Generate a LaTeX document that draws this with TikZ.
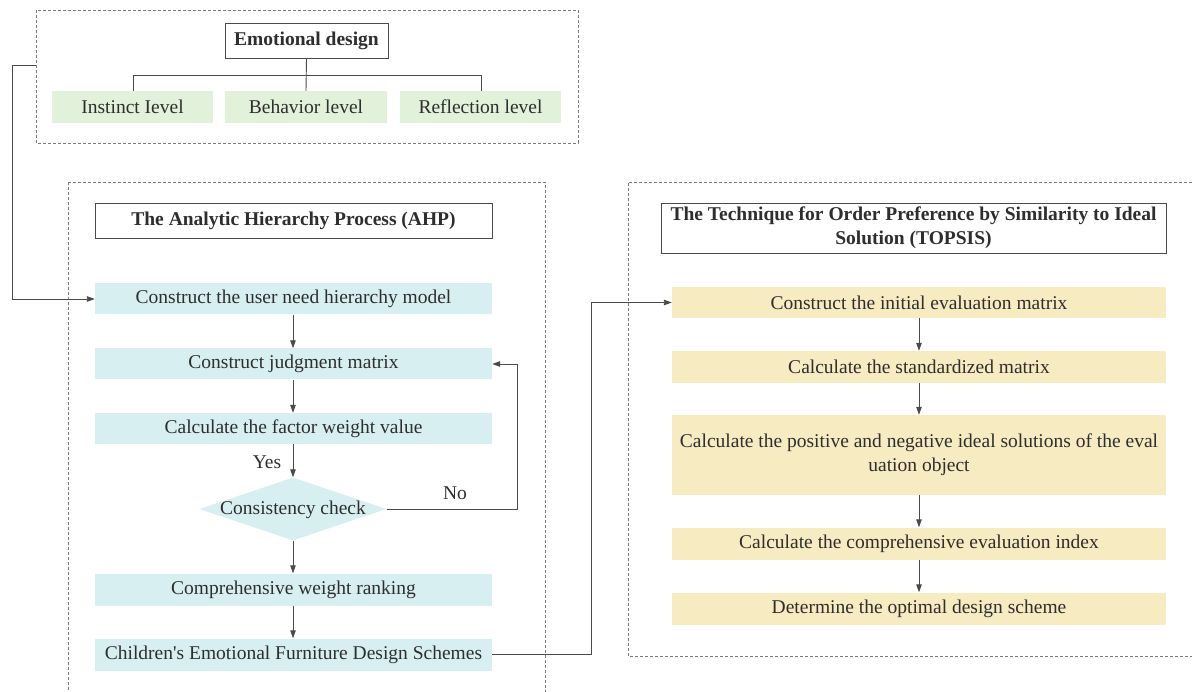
\documentclass[tikz,border=0pt]{standalone}
\usepackage{fontspec}
\setmainfont{Liberation Serif}
\usetikzlibrary{arrows.meta,shapes.geometric}
\definecolor{txt}{HTML}{2E2E2E}
\definecolor{ln}{HTML}{4A4A4A}
\definecolor{dsh}{HTML}{7A7A7A}
\definecolor{cyanfill}{HTML}{D7EFF0}
\definecolor{yelfill}{HTML}{F6EBC1}
\definecolor{grnfill}{HTML}{E2F1DA}
\tikzset{
  x=1pt, y=-1pt,
  every node/.style={text=txt, font=\fontsize{19.5}{22}\selectfont, inner sep=0pt, align=center},
  group/.style={draw=dsh, dashed, line width=0.8pt, dash pattern=on 3pt off 2pt},
  titlebox/.style={draw=ln, line width=0.9pt, fill=white, font=\fontsize{19.5}{22}\selectfont\bfseries},
  gbox/.style={fill=grnfill, minimum height=32, minimum width=161},
  cbox/.style={fill=cyanfill, minimum height=31, minimum width=397},
  ybox/.style={fill=yelfill, minimum width=494},
  conn/.style={draw=ln, line width=0.9pt},
  arr/.style={conn, -{Triangle[length=8pt,width=5.5pt]}},
}
\begin{document}
\begin{tikzpicture}
\useasboundingbox (0,0) rectangle (1192,692);
% group frames
\draw[group] (36,10) rectangle (578,143);
\draw[group] (68,182) -- (68,692);
\draw[group] (68,182) -- (545,182) -- (545,692);
\draw[group] (1192,182) -- (628,182) -- (628,656) -- (1192,656);

% emotional design
\node[titlebox, minimum width=163, minimum height=35] (ed) at (306.5,40.5) {Emotional design};
\node[gbox] (inst) at (132.5,107) {Instinct Ievel};
\node[gbox, minimum width=162] (beh) at (306,107) {Behavior level};
\node[gbox] (refl) at (480.5,107) {Reflection level};
\coordinate (tl) at (133,75);
\coordinate (tr) at (481,75);
\draw[conn] (ed.south) -- (beh.north);
\draw[conn] (inst.north -| tl) -- (tl) -- (tr) -- (refl.north -| tr);

% AHP
\node[titlebox, minimum width=397, minimum height=35] (ahp) at (293.5,220.5) {The Analytic Hierarchy Process (AHP)};
\node[cbox] (a1) at (293.5,299) {Construct the user need hierarchy model};
\node[cbox] (a2) at (293.5,364) {Construct judgment matrix};
\node[cbox] (a3) at (293.5,428.5) {Calculate the factor weight value};
\node[diamond, fill=cyanfill, minimum width=187, minimum height=63, shape aspect=2.97, inner sep=0pt] (dia) at (293,509) {};
\node at (293,509.5) {Consistency check};
\node[cbox, minimum height=32] (a4) at (293.5,589.5) {Comprehensive weight ranking};
\node[cbox, minimum height=32] (a5) at (293.5,654.5) {Children\textquotesingle s Emotional Furniture Design Schemes};

\draw[arr] (a1.south -| dia) -- (a2.north -| dia);
\draw[arr] (a2.south -| dia) -- (a3.north -| dia);
\draw[arr] (a3.south -| dia) -- (dia.north);
\draw[arr] (dia.south) -- (a4.north -| dia);
\draw[arr] (a4.south -| dia) -- (a5.north -| dia);
\node (yes) at (267,462) {Yes};
\coordinate (nx) at (517,0);
\draw[arr] (dia.east) -- (dia.east -| nx) -- (nx |- a2.east) -- (a2.east);
\node (no) at (455,493) {No};

% left link from emotional design
\coordinate (l1) at (36,65);
\coordinate (l2) at (12,65);
\draw[arr] (l1) -- (l2) -- (l2 |- a1.west) -- (a1.west);

% TOPSIS
\node[titlebox, minimum width=505, minimum height=50, font=\fontsize{19.5}{24}\selectfont\bfseries] (top) at (913.5,228) {The Technique for Order Preference by Similarity to Ideal\\Solution (TOPSIS)};
\node[ybox, minimum height=31] (t1) at (919,302.5) {Construct the initial evaluation matrix};
\node[ybox, minimum height=32] (t2) at (919,367) {Calculate the standardized matrix};
\node[ybox, minimum height=80, font=\fontsize{19.5}{24}\selectfont] (t3) at (919,455) {Calculate the positive and negative ideal solutions of the eval\\uation object};
\node[ybox, minimum height=32] (t4) at (919,543.5) {Calculate the comprehensive evaluation index};
\node[ybox, minimum height=32] (t5) at (919,608.5) {Determine the optimal design scheme};
\draw[arr] (t1) -- (t2);
\draw[arr] (t2) -- (t3);
\draw[arr] (t3) -- (t4);
\draw[arr] (t4) -- (t5);

% link AHP -> TOPSIS
\coordinate (mx) at (591,0);
\draw[arr] (a5.east) -- (a5.east -| mx) -- (mx |- t1.west) -- (t1.west);
\end{tikzpicture}
\end{document}
